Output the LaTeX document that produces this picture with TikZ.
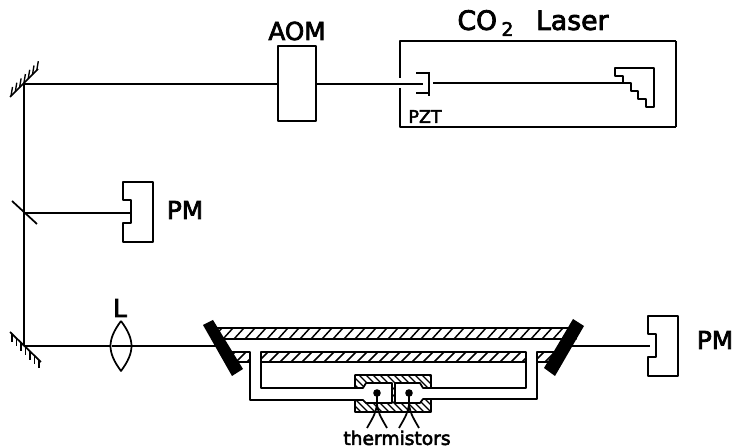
\documentclass[tikz,border=0pt]{standalone}
\usepackage{fontspec}
\setmainfont[FakeBold=3]{DejaVu Sans}
\newcommand{\BlockPath}{(355,388) -- (355,375) -- (431,375) -- (431,388) -- (423,388) -- (420,383)
    -- (395,383) -- (395,403) -- (420,403) -- (423,399) -- (431,399) -- (431,412) -- (355,412)
    -- (355,400) -- (363,400) -- (366,403) -- (392,403) -- (392,383) -- (366,383) -- (363,388) -- cycle}
\newcommand{\WideHatch}[4]{
    \begin{scope}
        \clip (#1,#2) rectangle (#3,#4);
        \foreach \n in {0,...,34} {
            \draw[line width=1.1pt] ({#1+11*\n-3},#4) -- ({#1+11*\n+7},#2);
        }
    \end{scope}
}
\tikzset{
    optic/.style={line width=1.3pt, line join=round},
    label big/.style={inner sep=0pt, font=\fontsize{18.5}{20}\selectfont},
    label small/.style={inner sep=0pt, font=\fontsize{14}{16}\selectfont},
    pmdetector/.pic={
        \draw[optic] (0,0) -- (30,0) -- (30,60) -- (0,60) -- (0,41) -- (8,41) -- (8,18) -- (0,18) -- cycle;
    }
}
\begin{document}
\begin{tikzpicture}[x=.75pt,y=-.75pt]
    \useasboundingbox (0,0) rectangle (733,448);

    % Define beam points
    \coordinate (mirrortop) at (24,84);
    \coordinate (splitter) at (24,213);
    \coordinate (mirrorlow) at (24,346);
    \coordinate (pmonein) at (131,213);
    \coordinate (pmtwoin) at (650,346);

    % Upper tube and left and right cell pieces, mirrors go on top
    \WideHatch{215}{328}{576}{339}
    \draw[optic] (215,328) rectangle (576,339);
    \WideHatch{261}{352}{526}{362}
    \draw[optic] (261,352) rectangle (526,362);
    \WideHatch{228}{352}{250}{362}
    \draw[optic] (228,352) -- (250,352) -- (250,362) -- (236,362);
    \WideHatch{537}{352}{558}{362}
    \draw[optic] (558,352) -- (537,352) -- (537,362) -- (552,362);

    % Inner and outer walls
    \draw[optic] (261,362) -- (261,388) -- (363,388);
    \draw[optic] (250,362) -- (250,400) -- (355,400);
    \draw[optic] (526,362) -- (526,388) -- (431,388);
    \draw[optic] (537,362) -- (537,399) -- (431,399);

    % Thermistor block
    \begin{scope}
        \clip \BlockPath;
        \foreach \x in {317,324,...,436} {
            \draw[line width=1pt] (\x,375) -- (\x+37,412);
        }
    \end{scope}
    \draw[optic] \BlockPath;
    \foreach \x in {377,409} {
        \fill (\x,393) circle (3.8);
        \draw[optic] (\x,393) -- (\x,405);
        \draw[optic] (\x,405) .. controls (\x-2,414) .. (\x-10,428);
        \draw[optic] (\x,405) .. controls (\x+2,414) .. (\x+10,428);
    }
    \node[label small] (thermistors) at (397,438) {thermistors};

    % Beams
    \draw[optic] (mirrorlow) -- (mirrortop) -- (278,84);
    \draw[optic] (316,84) -- (423,84);
    \draw[optic] (433,83) -- (623,83);
    \draw[optic] (splitter) -- (pmonein);
    \draw[optic] (mirrorlow) -- (222,346);
    \draw[optic] (565,346) -- (pmtwoin);

    % Mirrors on the left side
    \draw[optic] (10,97) -- (38,69);
    \foreach \t in {0,...,6} {
        \draw[line width=1pt] ({11+4.3*\t},{96-4.3*\t}) -- ++(1.5,-9);
    }
    \draw[optic] (12,201) -- (37,224);
    \draw[optic] (10,332) -- (41,362);
    \foreach \t in {0,...,6} {
        \draw[line width=1pt] ({12+4.5*\t},{334+4.4*\t}) -- ++(0,8);
    }

    % Cell mirrors
    \fill (203,325) -- (213,320) -- (243,369) -- (232,376) -- cycle;
    \fill (573,319) -- (584,326) -- (555,376) -- (544,368) -- cycle;

    % Lens
    \draw[optic, fill=white] (121,321) .. controls (107,340) and (107,352) .. (121,371)
        .. controls (135,352) and (135,340) .. (121,321);
    \draw[optic] (112,346) -- (131,346);
    \node[label big] (lenslabel) at (120,308) {L};

    % Detectors
    \pic at (123,182) {pmdetector};
    \pic at (648,316) {pmdetector};
    \node[label big] (pmone) at (185,210) {PM};
    \node[label big] (pmtwo) at (715,340) {PM};

    % AOM
    \draw[optic] (278,46) rectangle (316,121);
    \node[label big] (aom) at (297,31) {AOM};

    % Laser housing
    \draw[optic] (400,78) -- (400,41) -- (676,41);
    \draw[optic] (400,88) -- (400,127) -- (676,127);
    \draw[line width=1.8pt] (676,41) -- (676,127);
    \node[label big, font=\fontsize{20}{22}\selectfont] (laser) at (533,23) {CO\,\raisebox{-4.5pt}{\fontsize{14}{14}\selectfont 2}\hspace{.85em}Laser};
    \node[inner sep=0pt, font=\fontsize{13}{14}\selectfont] (pzt) at (425,116.5) {PZT};

    % PZT mirror and grating
    \draw[optic] (416,73) -- (429,73);
    \draw[optic] (416,93) -- (429,93);
    \draw[line width=1.5pt] (429,72) -- (429,96);
    \draw[optic] (615,68) -- (654,68) -- (654,107) -- (646,107) -- (646,99) -- (638,99) -- (638,91)
        -- (631,91) -- (631,83) -- (623,83) -- (623,76) -- (615,76) -- cycle;
\end{tikzpicture}
\end{document}
